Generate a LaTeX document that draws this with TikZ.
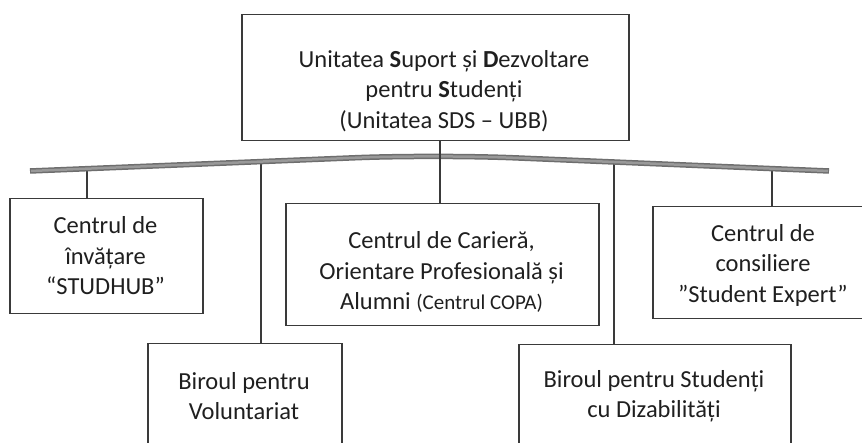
\documentclass[tikz,border=0pt]{standalone}
\usepackage{fontspec}
\setmainfont{Carlito}
\definecolor{barouter}{HTML}{6E6E6E}
\definecolor{barinner}{HTML}{999999}
\definecolor{linecol}{HTML}{3A3A3A}
\begin{document}
\begin{tikzpicture}[x=1pt,y=-1pt,
  box/.style={draw=linecol,line width=1.5pt,inner sep=0pt,anchor=north west},
  txt/.style={align=center,inner sep=0pt,font=\fontsize{24.5}{30.5}\selectfont,text=black!88},
  conn/.style={draw=linecol,line width=2.2pt},
]
\useasboundingbox (0,0) rectangle (862,443);
\clip (0,0) rectangle (862,443);
% boxes
\node[box,minimum width=387pt,minimum height=126pt] (top) at (241,14) {};
\node[box,minimum width=193pt,minimum height=115pt] (stud) at (9,198) {};
\node[box,minimum width=313pt,minimum height=122pt] (copa) at (285,203) {};
\node[box,minimum width=222pt,minimum height=112pt] (expert) at (652,206) {};
\node[box,minimum width=194pt,minimum height=120pt] (vol) at (147,343) {};
\node[box,minimum width=272pt,minimum height=120pt] (diz) at (518,344) {};
% texts
\node[txt] (ttop) at (444,91) {Unitatea \textbf{S}uport și \textbf{D}ezvoltare\\pentru \textbf{S}tudenți\\(Unitatea SDS – UBB)};
\node[txt] (tstud) at (105.5,256) {Centrul de\\învățare\\“STUDHUB”};
\node[txt] (tcopa) at (441.5,272) {Centrul de Carieră,\\Orientare Profesională și\\Alumni {\fontsize{21}{26}\selectfont(Centrul COPA)}};
\node[txt] (texpert) at (763,265) {Centrul de\\consiliere\\”Student Expert”};
\node[txt] (tvol) at (244,396) {Biroul pentru\\Voluntariat};
\node[txt] (tdiz) at (654,396) {Biroul pentru Studenți\\cu Dizabilități};
% bar anchor points
\coordinate (barL) at (30,171);
\coordinate (barM) at (435,154.5);
\coordinate (barR) at (829,171);
\coordinate (b1) at (87,167);
\coordinate (b2) at (261,161);
\coordinate (b4) at (614,161);
\coordinate (b5) at (772,168);
% connectors below bar
\draw[conn] (b1) -- (b1 |- stud.north);
\draw[conn] (b2) -- (b2 |- vol.north);
\draw[conn] (b4) -- (b4 |- diz.north);
\draw[conn] (b5) -- (b5 |- expert.north);
% bar
\draw[barouter,line width=5.5pt,rounded corners=80pt] (barL) -- (barM) -- (barR);
\draw[barinner,line width=2.5pt,rounded corners=80pt,shorten <=0.8pt,shorten >=0.8pt] (barL) -- (barM) -- (barR);
% central connector
\draw[conn] ([xshift=5pt]top.south) -- ([xshift=5pt]top.south |- copa.north);
\end{tikzpicture}
\end{document}
